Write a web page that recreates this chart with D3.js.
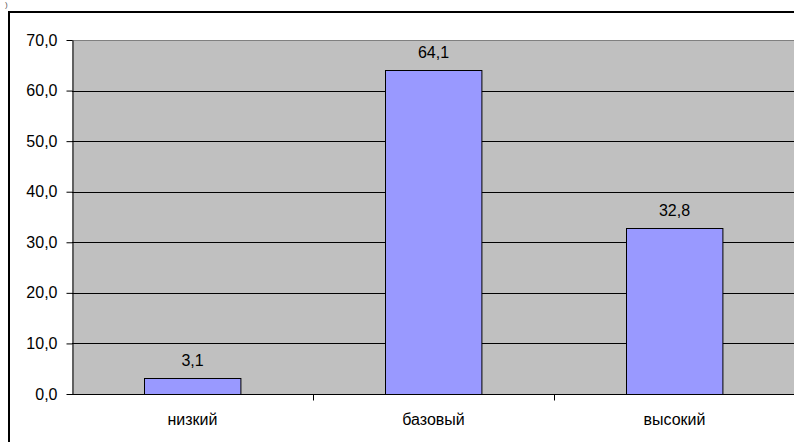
<!DOCTYPE html>
<html><head><meta charset="utf-8">
<script src="https://cdn.jsdelivr.net/npm/d3@7"></script>
<style>html,body{margin:0;padding:0;background:#fff;overflow:hidden}svg{display:block;font-family:"Liberation Sans",Arial,sans-serif}</style>
</head><body><svg id="c" width="794" height="442"></svg>
<script>
const categories = ["низкий", "базовый", "высокий"];
const values = [3.1, 64.1, 32.8];
const yTicks = [0, 10, 20, 30, 40, 50, 60, 70];

const svg = d3.select("#c");
const fmt = v => d3.format(".1f")(v).replace(".", ",");
const FS = 16;

// outer frame
svg.append("rect").attr("x", 9).attr("y", 12).attr("width", 800).attr("height", 440)
  .attr("fill", "#fff").attr("stroke", "#000").attr("stroke-width", 2);
svg.append("text").attr("x", 5).attr("y", 7).attr("font-size", 8).attr("fill", "#555").text(")");

const L = 72, R = 795, T = 40, B = 394;
const x = d3.scaleBand().domain(categories).range([L, R]).paddingInner(0.6).paddingOuter(0.3);
const y = d3.scaleLinear().domain([0, 70]).range([B, T]);

svg.append("rect").attr("x", L).attr("y", T).attr("width", R - L).attr("height", B - T).attr("fill", "#c0c0c0");
svg.append("line").attr("x1", L).attr("x2", R).attr("y1", T + 0.5).attr("y2", T + 0.5).attr("stroke", "#808080");

// gridlines
svg.append("g").selectAll("line").data(yTicks.filter(t => t > 0 && t < 70)).join("line")
  .attr("x1", L).attr("x2", R).attr("y1", d => Math.round(y(d)) + 0.5).attr("y2", d => Math.round(y(d)) + 0.5)
  .attr("stroke", "#000").attr("stroke-width", 1);

// bars
svg.append("g").selectAll("rect").data(values).join("rect")
  .attr("x", (d, i) => Math.round(x(categories[i])) + 0.5)
  .attr("y", d => Math.round(y(d)) + 0.5)
  .attr("width", x.bandwidth())
  .attr("height", d => B - Math.round(y(d)))
  .attr("fill", "#9999ff").attr("stroke", "#000").attr("stroke-width", 1);

// value labels
svg.append("g").selectAll("text").data(values).join("text")
  .attr("x", (d, i) => x(categories[i]) + x.bandwidth() / 2)
  .attr("y", d => y(d) - 12)
  .attr("text-anchor", "middle").attr("font-size", FS).attr("fill", "#000")
  .text(d => fmt(d));

// y axis
const yAxis = d3.axisLeft(y).tickValues(yTicks).tickFormat(fmt).tickSize(6).tickSizeOuter(0);
const gy = svg.append("g").attr("transform", `translate(${L + 0.5},0)`).call(yAxis);
gy.selectAll("text").attr("font-size", FS).attr("fill", "#000").attr("font-family", "Liberation Sans, Arial, sans-serif").attr("x", -15);
gy.selectAll("line,path").attr("stroke", "#000");

// x axis
const xb = d3.scaleLinear().domain([0, categories.length]).range([L, R]);
const gx = svg.append("g").attr("transform", `translate(0,${B + 0.5})`);
gx.append("line").attr("x1", L).attr("x2", R).attr("stroke", "#000");
gx.selectAll(".tk").data(d3.range(1, categories.length)).join("line").attr("class", "tk")
  .attr("x1", d => Math.round(xb(d)) + 0.5).attr("x2", d => Math.round(xb(d)) + 0.5)
  .attr("y1", 0).attr("y2", 6).attr("stroke", "#000");
gx.selectAll("text").data(categories).join("text")
  .attr("x", d => x(d) + x.bandwidth() / 2).attr("y", 30)
  .attr("text-anchor", "middle").attr("font-size", FS).attr("fill", "#000").text(d => d);
</script></body></html>
